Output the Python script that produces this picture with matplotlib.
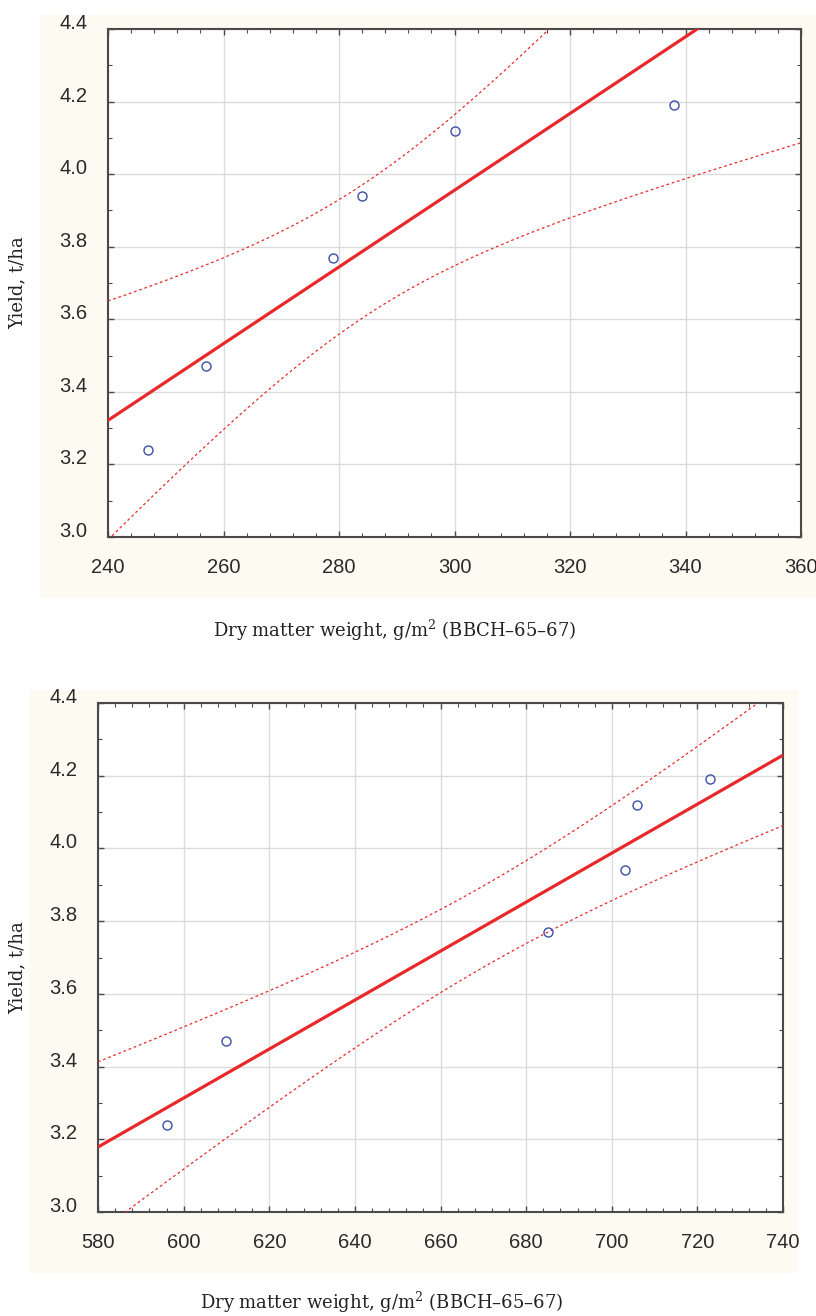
import numpy as np
import matplotlib.pyplot as plt
from matplotlib.patches import Rectangle
from matplotlib.ticker import MultipleLocator

# values
yield_tha = [3.24, 3.47, 3.77, 3.94, 4.12, 4.19]
dm_flowering = [247, 257, 279, 284, 300, 338]      # upper panel
dm_second = [596, 610, 685, 703, 706, 723]         # lower panel

t_crit = 2.776   # t(0.975, df=4) for the 95% band

plt.rcParams['font.family'] = ['Liberation Sans', 'DejaVu Sans']
plt.rcParams['mathtext.fontset'] = 'dejavuserif'

BEIGE = '#fdfaf1'
RED = '#e8292b'
BLUE = '#3b4fa6'
SPINE = '#4a4a4a'

W, H = 816, 1316
fig = plt.figure(figsize=(W / 100, H / 100), dpi=100)


def fig_box(x0, y0, x1, y1):
    # pixel box (top-left origin) -> figure fraction [left, bottom, width, height]
    return [x0 / W, 1 - y1 / H, (x1 - x0) / W, (y1 - y0) / H]


def panel(box, bg, x, y, xlim, xstep, xlab_pos, ylab_pos):
    l, b, w, h = fig_box(*bg)
    fig.patches.append(Rectangle((l, b), w, h, transform=fig.transFigure,
                                 facecolor=BEIGE, edgecolor='none', zorder=-10))
    ax = fig.add_axes(fig_box(*box))
    ax.set_zorder(1)
    ax.set_facecolor('white')

    x = np.array(x, dtype=float)
    y = np.array(y, dtype=float)
    n = len(x)
    p = np.polyfit(x, y, 1)
    xs = np.linspace(xlim[0], xlim[1], 200)
    fit = np.polyval(p, xs)
    resid = y - np.polyval(p, x)
    s = np.sqrt(np.sum(resid ** 2) / (n - 2))
    sxx = np.sum((x - x.mean()) ** 2)
    band = t_crit * s * np.sqrt(1 / n + (xs - x.mean()) ** 2 / sxx)

    ax.plot(xs, fit, color=RED, lw=2.3, zorder=3)
    ax.plot(xs, fit + band, color=RED, lw=0.9, ls=(0, (2.2, 2.2)), zorder=3)
    ax.plot(xs, fit - band, color=RED, lw=0.9, ls=(0, (2.2, 2.2)), zorder=3)
    ax.plot(x, y, 'o', mfc='none', mec=BLUE, ms=6.5, mew=1.0, zorder=4)

    ax.set_xlim(xlim)
    ax.set_ylim(3.0, 4.4)
    ax.xaxis.set_major_locator(MultipleLocator(xstep))
    ax.xaxis.set_minor_locator(MultipleLocator(xstep / 5))
    ax.yaxis.set_major_locator(MultipleLocator(0.2))
    ax.yaxis.set_minor_locator(MultipleLocator(0.1))
    ax.yaxis.set_major_formatter(lambda v, pos: f'{v:.1f}')
    ax.grid(True, which='major', color='#dcdcdc', lw=1.0, zorder=0)
    ax.set_axisbelow(True)

    ax.tick_params(which='both', direction='in', top=True, right=True,
                   color=SPINE, labelsize=14.5, labelcolor='#2a2a2a', pad=15)
    ax.tick_params(which='major', length=4, width=1)
    ax.tick_params(which='minor', length=3, width=0.8)
    for lbl in ax.get_yticklabels():
        lbl.set_verticalalignment('baseline')
    for sp in ax.spines.values():
        sp.set_color(SPINE)
        sp.set_linewidth(1.5)

    fig.text(xlab_pos[0] / W, 1 - xlab_pos[1] / H,
             'Dry matter weight, g/m$^{2}$ (BBCH–65–67)',
             family='DejaVu Serif', fontsize=13, color='#222222',
             ha='center', va='center')
    fig.text(ylab_pos[0] / W, 1 - ylab_pos[1] / H, 'Yield, t/ha',
             family='DejaVu Serif', fontsize=13, color='#222222',
             rotation=90, ha='center', va='center')
    return ax


panel((108, 29, 801, 537), (40, 15, 816, 598), dm_flowering, yield_tha,
      (240, 360), 20, (395, 630), (18, 283))
panel((98, 703, 783, 1212), (29, 690, 798, 1273), dm_second, yield_tha,
      (580, 740), 20, (382, 1302), (18, 968))

fig.savefig('out.png', dpi=100, facecolor='white')
